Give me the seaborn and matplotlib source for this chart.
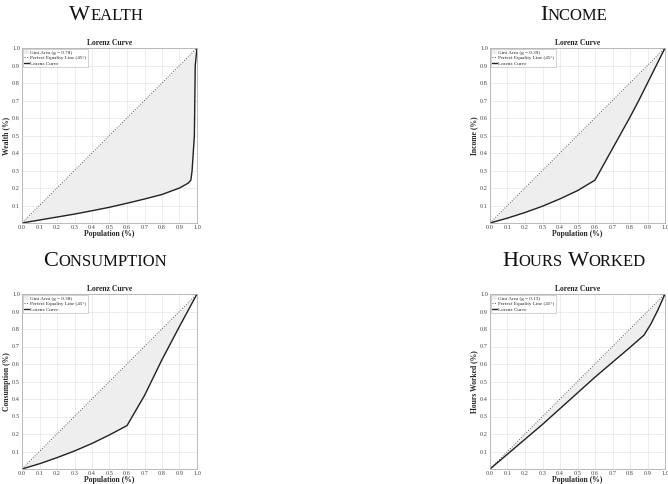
import numpy as np
import pandas as pd
import matplotlib
matplotlib.use("Agg")
import matplotlib.pyplot as plt
import seaborn as sns
from matplotlib.offsetbox import TextArea, HPacker, AnnotationBbox

# Lorenz curve points
pop_wealth = [0.0, 0.1, 0.2, 0.3, 0.4, 0.5, 0.6, 0.7, 0.8, 0.9, 0.95, 0.965, 0.972, 0.985, 0.99, 1.0]
share_wealth = [0.0, 0.017, 0.034, 0.051, 0.07, 0.09, 0.113, 0.137, 0.163, 0.2, 0.228, 0.245, 0.3, 0.5, 0.9, 1.0]

pop_income = [0.0, 0.1, 0.2, 0.3, 0.4, 0.5, 0.6, 0.7, 0.8, 0.85, 0.9, 0.95, 1.0]
share_income = [0.0, 0.028, 0.06, 0.096, 0.138, 0.185, 0.245, 0.425, 0.605, 0.7, 0.8, 0.9, 1.0]

pop_cons = [0.0, 0.1, 0.2, 0.3, 0.4, 0.5, 0.6, 0.7, 0.8, 0.9, 1.0]
share_cons = [0.0, 0.03, 0.065, 0.103, 0.146, 0.195, 0.248, 0.42, 0.625, 0.815, 1.0]

pop_hours = [0.0, 0.1, 0.2, 0.3, 0.4, 0.5, 0.6, 0.7, 0.8, 0.88, 0.92, 0.96, 1.0]
share_hours = [0.0, 0.085, 0.17, 0.255, 0.345, 0.435, 0.525, 0.61, 0.695, 0.765, 0.83, 0.91, 1.0]

panel_titles = ["Wealth", "Income", "Consumption", "Hours Worked"]
ylabels = ["Wealth (%)", "Income (%)", "Consumption (%)", "Hours Worked (%)"]
gini_values = [0.78, 0.39, 0.38, 0.13]
xs = [pop_wealth, pop_income, pop_cons, pop_hours]
ys = [share_wealth, share_income, share_cons, share_hours]

sns.set_style("whitegrid")
plt.rcParams['font.family'] = ['Liberation Serif', 'DejaVu Serif']

fig = plt.figure(figsize=(6.68, 4.84), dpi=100)

# axes boxes in pixels: left, top
boxes = [(22, 48), (490, 48), (22, 294), (490, 294)]
title_pos = [(106, 15), (574, 15), (105, 262), (574, 262)]
W, H = 668, 484
size = 175


def small_caps(text, x, y, big=16, small=12):
    parts = []
    props = dict(family='Liberation Serif', color='#111111')
    for word in text.split(" "):
        if parts:
            parts.append(TextArea(" ", textprops=dict(fontsize=big, **props)))
        parts.append(TextArea(word[0].upper(), textprops=dict(fontsize=big, **props)))
        parts.append(TextArea(word[1:].upper(), textprops=dict(fontsize=small, **props)))
    box = HPacker(children=parts, align="baseline", pad=0, sep=0)
    ab = AnnotationBbox(box, (x / W, 1 - y / H), xycoords='figure fraction',
                        frameon=False, box_alignment=(0.5, 0.5))
    fig.add_artist(ab)


for i in range(4):
    left, top = boxes[i]
    ax = fig.add_axes([left / W, 1 - (top + size) / H, size / W, size / H])
    df = pd.DataFrame({"pop": xs[i], "share": ys[i]})
    eq = pd.DataFrame({"pop": [0.0, 1.0], "share": [0.0, 1.0]})

    ax.fill_between(df["pop"], df["share"], df["pop"], color='#eeeeee',
                    label=f"Gini Area (g = {gini_values[i]:.2f})", linewidth=0)
    sns.lineplot(data=eq, x="pop", y="share", ax=ax, color='#555555', linestyle=':',
                 linewidth=0.7, label="Perfect Equality Line (45°)")
    sns.lineplot(data=df, x="pop", y="share", ax=ax, color='#222222', linewidth=1.0,
                 label="Lorenz Curve", sort=False)

    ax.set_xlim(0, 1)
    ax.set_ylim(0, 1)
    ax.set_xticks(np.arange(0, 1.01, 0.1))
    ax.set_yticks(np.arange(0.1, 1.01, 0.1))
    ax.set_xticklabels([f"{v:.1f}" for v in np.arange(0, 1.01, 0.1)])
    ax.set_yticklabels([f"{v:.1f}" for v in np.arange(0.1, 1.01, 0.1)])
    ax.tick_params(labelsize=4.5, length=1.5, direction='in', pad=1.5, colors='#444444')
    ax.grid(True, color='#e6e6e6', linewidth=0.5)
    for s in ax.spines.values():
        s.set_color('#b0b0b0')
        s.set_linewidth(0.6)
    ax.set_title("Lorenz Curve", fontsize=5.5, fontweight='bold', pad=2)
    ax.set_xlabel("Population (%)", fontsize=5.5, fontweight='bold', labelpad=0)
    ax.set_ylabel(ylabels[i], fontsize=5.5, fontweight='bold', labelpad=1)
    leg = ax.legend(loc='upper left', fontsize=3.7, frameon=True, fancybox=False,
                    borderpad=0.3, labelspacing=0.15, handlelength=0.9,
                    handletextpad=0.3, borderaxespad=0.15)
    leg.get_frame().set_edgecolor('#b0b0b0')
    leg.get_frame().set_linewidth(0.5)

    small_caps(panel_titles[i], *title_pos[i])

fig.savefig("out.png", dpi=100)
